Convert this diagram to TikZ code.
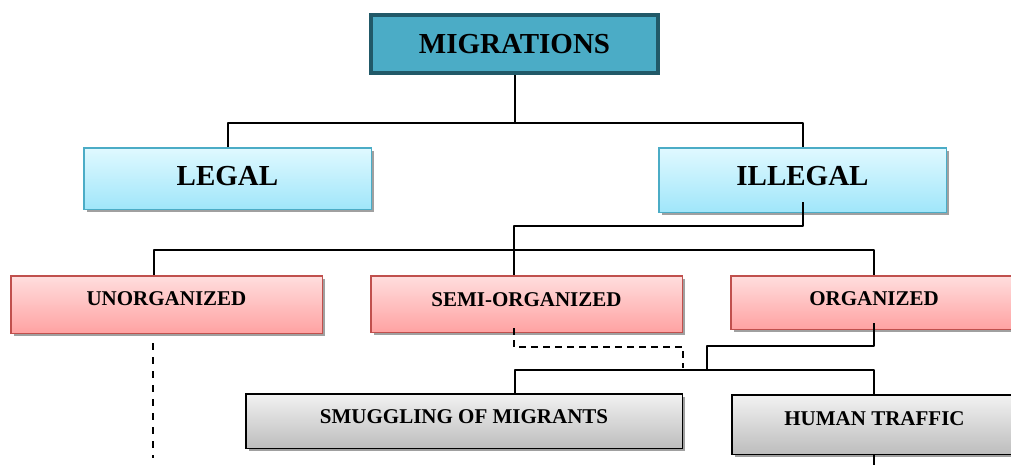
\documentclass[tikz,border=0pt]{standalone}
\usepackage{fontspec}
\setmainfont{Liberation Serif}
\usetikzlibrary{shadows}
\definecolor{migfill}{HTML}{4BACC6}
\definecolor{migborder}{HTML}{215968}
\definecolor{blueborder}{HTML}{4BACC6}
\definecolor{bluetop}{HTML}{E0F9FF}
\definecolor{bluebot}{HTML}{A0E6FA}
\definecolor{pinkborder}{HTML}{C0504D}
\definecolor{pinktop}{HTML}{FFDEDE}
\definecolor{pinkbot}{HTML}{FFA2A2}
\definecolor{graytop}{HTML}{F2F2F2}
\definecolor{graybot}{HTML}{BDBDBD}
\definecolor{shadowgray}{HTML}{A0A0A0}
\tikzset{
  box/.style={rectangle, inner sep=0pt, align=center, font=\bfseries},
  shad/.style={drop shadow={shadow xshift=3pt, shadow yshift=-3pt, fill=shadowgray, opacity=1}},
  bigtext/.style={font=\fontsize{29}{30}\selectfont\bfseries, text height=19pt},
  smalltext/.style={font=\fontsize{21}{22}\selectfont\bfseries, text height=14pt},
  migbox/.style={box, bigtext, draw=migborder, line width=4pt, fill=migfill},
  bluebox/.style={box, bigtext, shad, draw=blueborder, line width=1.5pt, top color=bluetop, bottom color=bluebot},
  pinkbox/.style={box, smalltext, shad, draw=pinkborder, line width=1.5pt, top color=pinktop, bottom color=pinkbot},
  graybox/.style={box, smalltext, shad, draw=black, line width=1.5pt, top color=graytop, bottom color=graybot},
  conn/.style={draw=black, line width=2pt, line join=round},
  dashconn/.style={draw=black, line width=1.6pt, dash pattern=on 7pt off 5pt},
  dashlong/.style={draw=black, line width=2pt, dash pattern=on 7pt off 7pt},
}
\begin{document}
\begin{tikzpicture}[x=1pt, y=-1pt]
\useasboundingbox (0,0) rectangle (1011,472);
\clip (0,0) rectangle (1011,472);
\fill[white] (0,0) rectangle (1011,472);

% boxes
\node[migbox, minimum width=287pt, minimum height=58pt, text depth=0pt] (mig) at (514.5,44) {MIGRATIONS};
\node[bluebox, minimum width=287.5pt, minimum height=61.5pt, text depth=5pt] (legal) at (227.5,178.5) {LEGAL};
\node[bluebox, minimum width=287.5pt, minimum height=64.5pt, text depth=8pt] (illegal) at (802.5,180) {ILLEGAL};
\node[pinkbox, minimum width=311.5pt, minimum height=57.5pt, text depth=12pt] (unorg) at (166.5,304.5) {UNORGANIZED};
\node[pinkbox, minimum width=311.5pt, minimum height=56.5pt, text depth=10pt] (semi) at (526.5,304) {SEMI-ORGANIZED};
\node[pinkbox, minimum width=286.5pt, minimum height=53.5pt, text depth=8pt] (org) at (874,302.5) {ORGANIZED};
\node[graybox, minimum width=436.5pt, minimum height=54.5pt, text depth=10pt] (smug) at (464,421) {SMUGGLING OF MIGRANTS};
\node[graybox, minimum width=285.5pt, minimum height=59.5pt, text depth=13pt] (human) at (874.5,424.5) {HUMAN TRAFFIC};

% junction coordinates
\coordinate (j1) at (514.5,123);
\coordinate (ilin) at (802.5,202);
\coordinate (j2) at (514,226);
\coordinate (h2a) at (154,250);
\coordinate (h2c) at (874,250);
\coordinate (sd1) at (514,328);
\coordinate (sd2) at (683,347);
\coordinate (sd3) at (683,368);
\coordinate (oin) at (874,323);
\coordinate (oj) at (707,346);
\coordinate (oj2) at (707,370);
\coordinate (h3a) at (514.5,370);
\coordinate (h3c) at (874,370);
\coordinate (ud1) at (153,343);
\coordinate (ud2) at (153,458);
\coordinate (hb) at (874,465);

% connectors
\draw[conn] (mig.south -| j1) -- (j1);
\draw[conn] (legal.north) |- (j1) -| (illegal.north);
\draw[conn] (ilin) |- (j2) -- (j2 |- semi.north);
\draw[conn] (h2a |- unorg.north) -- (h2a) -- (h2c) -- (h2c |- org.north);
\draw[dashconn] (sd1) |- (sd2) -- (sd3);
\draw[conn] (oin) |- (oj) -- (oj2);
\draw[conn] (h3a |- smug.north) -- (h3a) -- (h3c) -- (h3c |- human.north);
\draw[dashlong] (ud1) -- (ud2);
\draw[conn] (human.south -| hb) -- (hb);
\end{tikzpicture}
\end{document}
